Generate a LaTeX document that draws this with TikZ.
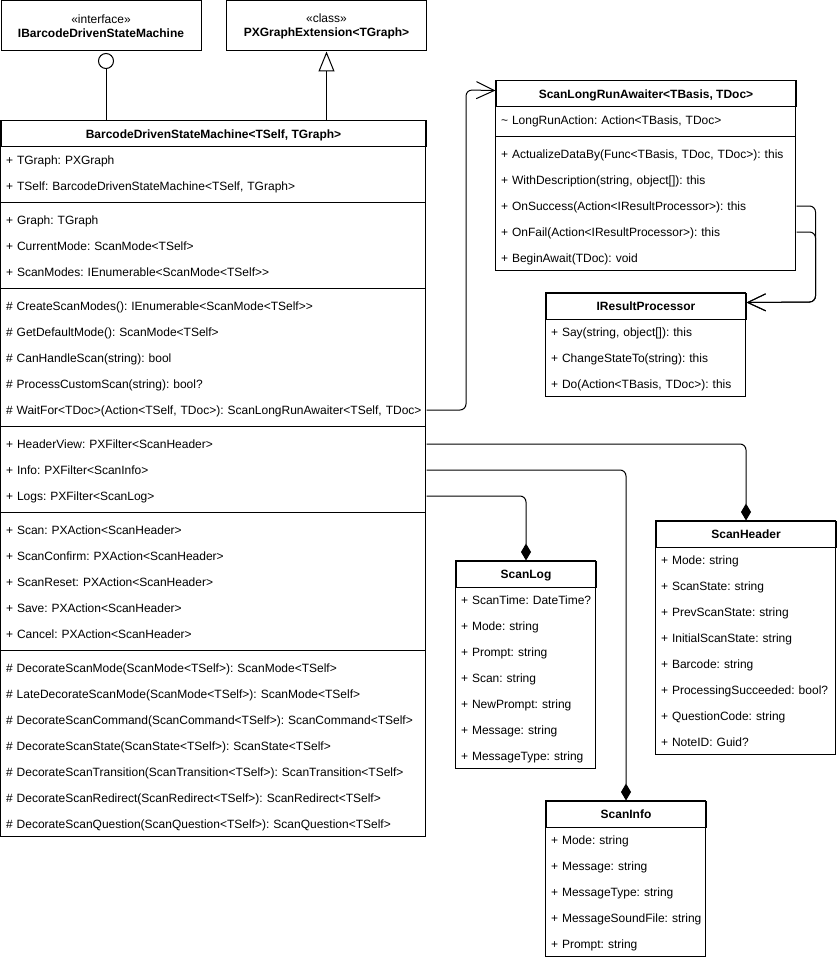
\documentclass[tikz,border=0pt]{standalone}
\usepackage{fontspec}
\setmainfont{Liberation Sans}
\usetikzlibrary{arrows.meta}
\newcommand\basefont{\fontsize{12}{14}\selectfont\frenchspacing}
\newcommand\R[5]{\node[#1] (#2) at (#3,#4) {\mbox{#5}};}
\begin{document}
\begin{tikzpicture}[x=1pt,y=-1pt, line width=1pt, font=\basefont,
  hdr/.style={draw, anchor=north west, minimum height=26pt, inner sep=0pt, font=\basefont\bfseries, text height=10pt, text depth=1.5pt},
  row/.style={anchor=north west, minimum height=26pt, inner ysep=0pt, inner xsep=5pt, align=left, text height=10pt, text depth=1.5pt},
  rowM/.style={row, text width=415pt},
  rowA/.style={row, text width=290pt},
  rowR/.style={row, text width=190pt},
  rowL/.style={row, text width=130pt},
  rowH/.style={row, text width=170pt},
  rowI/.style={row, text width=150pt},
  topbox/.style={draw, anchor=north west, minimum width=200pt, minimum height=50pt, inner sep=0pt, align=center},
  assoc/.style={-{Straight Barb[length=18pt,width=17pt]}, rounded corners=6pt},
  comp/.style={-{Diamond[length=17pt,width=10pt]}, rounded corners=6pt},
  inherit/.style={-{Triangle[open,length=20pt,width=16pt]}}
]
\useasboundingbox (0,0) rectangle (836,960);

% ---------- top boxes ----------
\node[topbox] (ib) at (0.5,0.5) {«interface»\\\textbf{IBarcodeDrivenStateMachine}};
\node[topbox] (pxg) at (226,0.5) {«class»\\\textbf{PXGraphExtension<TGraph>}};

% ---------- main class ----------
\node[hdr, minimum width=425pt] (mh) at (0.5,120.5) {BarcodeDrivenStateMachine<TSelf, TGraph>};
\draw (0.5,120.5) rectangle (425.5,836.5);
\R{rowM}{m1}{0.5}{146.5}{+ TGraph: PXGraph}
\R{rowM}{m2}{0.5}{172.5}{+ TSelf: BarcodeDrivenStateMachine<TSelf, TGraph>}
\draw (0.5,202.5) -- (425.5,202.5);
\R{rowM}{m3}{0.5}{206.5}{+ Graph: TGraph}
\R{rowM}{m4}{0.5}{232.5}{+ CurrentMode: ScanMode<TSelf>}
\R{rowM}{m5}{0.5}{258.5}{+ ScanModes: IEnumerable<ScanMode<TSelf>{}>}
\draw (0.5,288.5) -- (425.5,288.5);
\R{rowM}{m6}{0.5}{292.5}{\# CreateScanModes(): IEnumerable<ScanMode<TSelf>{}>}
\R{rowM}{m7}{0.5}{318.5}{\# GetDefaultMode(): ScanMode<TSelf>}
\R{rowM}{m8}{0.5}{344.5}{\# CanHandleScan(string): bool}
\R{rowM}{m9}{0.5}{370.5}{\# ProcessCustomScan(string): bool?}
\R{rowM}{mwait}{0.5}{396.5}{\# WaitFor<TDoc>(Action<TSelf, TDoc>): ScanLongRunAwaiter<TSelf, TDoc>}
\draw (0.5,426.5) -- (425.5,426.5);
\R{rowM}{mhv}{0.5}{430.5}{+ HeaderView: PXFilter<ScanHeader>}
\R{rowM}{minfo}{0.5}{456.5}{+ Info: PXFilter<ScanInfo>}
\R{rowM}{mlogs}{0.5}{482.5}{+ Logs: PXFilter<ScanLog>}
\draw (0.5,512.5) -- (425.5,512.5);
\R{rowM}{m10}{0.5}{516.5}{+ Scan: PXAction<ScanHeader>}
\R{rowM}{m11}{0.5}{542.5}{+ ScanConfirm: PXAction<ScanHeader>}
\R{rowM}{m12}{0.5}{568.5}{+ ScanReset: PXAction<ScanHeader>}
\R{rowM}{m13}{0.5}{594.5}{+ Save: PXAction<ScanHeader>}
\R{rowM}{m14}{0.5}{620.5}{+ Cancel: PXAction<ScanHeader>}
\draw (0.5,650.5) -- (425.5,650.5);
\R{rowM}{m15}{0.5}{654.5}{\# DecorateScanMode(ScanMode<TSelf>): ScanMode<TSelf>}
\R{rowM}{m16}{0.5}{680.5}{\# LateDecorateScanMode(ScanMode<TSelf>): ScanMode<TSelf>}
\R{rowM}{m17}{0.5}{706.5}{\# DecorateScanCommand(ScanCommand<TSelf>): ScanCommand<TSelf>}
\R{rowM}{m18}{0.5}{732.5}{\# DecorateScanState(ScanState<TSelf>): ScanState<TSelf>}
\R{rowM}{m19}{0.5}{758.5}{\# DecorateScanTransition(ScanTransition<TSelf>): ScanTransition<TSelf>}
\R{rowM}{m20}{0.5}{784.5}{\# DecorateScanRedirect(ScanRedirect<TSelf>): ScanRedirect<TSelf>}
\R{rowM}{m21}{0.5}{810.5}{\# DecorateScanQuestion(ScanQuestion<TSelf>): ScanQuestion<TSelf>}

% ---------- ScanLongRunAwaiter ----------
\node[hdr, minimum width=300pt] (aw) at (495.5,80.5) {ScanLongRunAwaiter<TBasis, TDoc>};
\draw (495.5,80.5) rectangle (795.5,270.5);
\R{rowA}{a1}{495.5}{106.5}{\textasciitilde{} LongRunAction: Action<TBasis, TDoc>}
\draw (495.5,136.5) -- (795.5,136.5);
\R{rowA}{a2}{495.5}{140.5}{+ ActualizeDataBy(Func<TBasis, TDoc, TDoc>): this}
\R{rowA}{a3}{495.5}{166.5}{+ WithDescription(string, object[]): this}
\R{rowA}{asucc}{495.5}{192.5}{+ OnSuccess(Action<IResultProcessor>): this}
\R{rowA}{afail}{495.5}{218.5}{+ OnFail(Action<IResultProcessor>): this}
\R{rowA}{a4}{495.5}{244.5}{+ BeginAwait(TDoc): void}

% ---------- IResultProcessor ----------
\node[hdr, minimum width=200pt] (irp) at (545.5,292.5) {IResultProcessor};
\draw (545.5,292.5) rectangle (745.5,396.5);
\R{rowR}{r1}{545.5}{318.5}{+ Say(string, object[]): this}
\R{rowR}{r2}{545.5}{344.5}{+ ChangeStateTo(string): this}
\R{rowR}{r3}{545.5}{370.5}{+ Do(Action<TBasis, TDoc>): this}

% ---------- ScanLog ----------
\node[hdr, minimum width=140pt] (sl) at (455.5,560.5) {ScanLog};
\draw (455.5,560.5) rectangle (595.5,768.5);
\R{rowL}{l1}{455.5}{586.5}{+ ScanTime: DateTime?}
\R{rowL}{l2}{455.5}{612.5}{+ Mode: string}
\R{rowL}{l3}{455.5}{638.5}{+ Prompt: string}
\R{rowL}{l4}{455.5}{664.5}{+ Scan: string}
\R{rowL}{l5}{455.5}{690.5}{+ NewPrompt: string}
\R{rowL}{l6}{455.5}{716.5}{+ Message: string}
\R{rowL}{l7}{455.5}{742.5}{+ MessageType: string}

% ---------- ScanHeader ----------
\node[hdr, minimum width=180pt] (sh) at (655.5,520.5) {ScanHeader};
\draw (655.5,520.5) rectangle (835.5,754.5);
\R{rowH}{h1}{655.5}{546.5}{+ Mode: string}
\R{rowH}{h2}{655.5}{572.5}{+ ScanState: string}
\R{rowH}{h3}{655.5}{598.5}{+ PrevScanState: string}
\R{rowH}{h4}{655.5}{624.5}{+ InitialScanState: string}
\R{rowH}{h5}{655.5}{650.5}{+ Barcode: string}
\R{rowH}{h6}{655.5}{676.5}{+ ProcessingSucceeded: bool?}
\R{rowH}{h7}{655.5}{702.5}{+ QuestionCode: string}
\R{rowH}{h8}{655.5}{728.5}{+ NoteID: Guid?}

% ---------- ScanInfo ----------
\node[hdr, minimum width=160pt] (si) at (545.5,800.5) {ScanInfo};
\draw (545.5,800.5) rectangle (705.5,956.5);
\R{rowI}{i1}{545.5}{826.5}{+ Mode: string}
\R{rowI}{i2}{545.5}{852.5}{+ Message: string}
\R{rowI}{i3}{545.5}{878.5}{+ MessageType: string}
\R{rowI}{i4}{545.5}{904.5}{+ MessageSoundFile: string}
\R{rowI}{i5}{545.5}{930.5}{+ Prompt: string}

% ---------- connectors ----------
\node[circle, draw, minimum size=15pt, inner sep=0pt] (lol) at (106,61) {};
\draw (lol.south) -- (lol.south |- mh.north);
\draw[inherit] (pxg.south |- mh.north) -- (pxg.south);

\coordinate (wb) at (466,90);
\draw[assoc] (mwait.east) -| (wb) -- ([yshift=3.5pt]aw.west);

\coordinate (rb) at (815.5,302);
\draw[assoc] (asucc.east) -| (rb) -- ([yshift=3.5pt]irp.east);
\draw[assoc] (afail.east) -| (rb) -- ([yshift=3.5pt]irp.east);

\draw[comp] (mhv.east) -| (sh.north);
\draw[comp] (minfo.east) -| (si.north);
\draw[comp] (mlogs.east) -| (sl.north);
\end{tikzpicture}
\end{document}
